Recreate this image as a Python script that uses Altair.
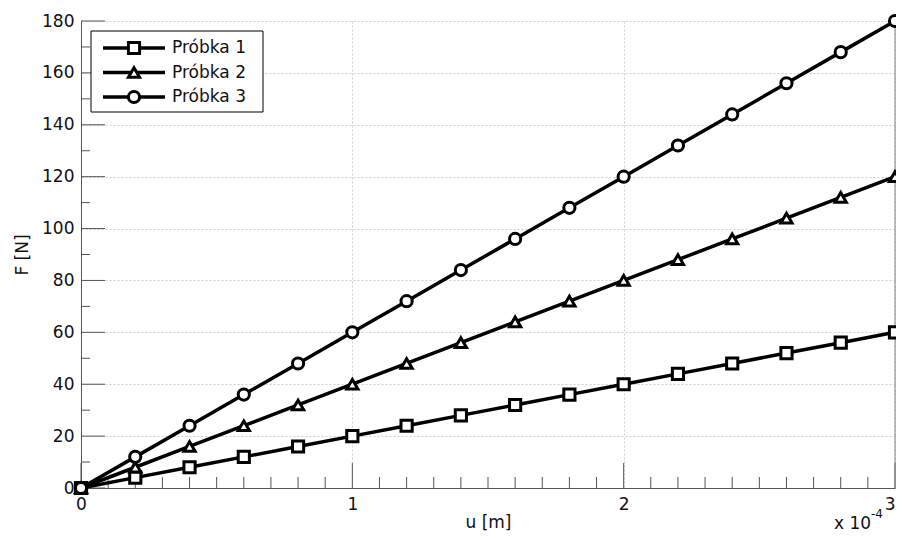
import altair as alt
import pandas as pd

# ---------------- data ----------------
u_m = [0.0, 0.00002, 0.00004, 0.00006, 0.00008, 0.0001, 0.00012, 0.00014,
       0.00016, 0.00018, 0.0002, 0.00022, 0.00024, 0.00026, 0.00028, 0.0003]
F1 = [0, 4, 8, 12, 16, 20, 24, 28, 32, 36, 40, 44, 48, 52, 56, 60]
F2 = [0, 8, 16, 24, 32, 40, 48, 56, 64, 72, 80, 88, 96, 104, 112, 120]
F3 = [0, 12, 24, 36, 48, 60, 72, 84, 96, 108, 120, 132, 144, 156, 168, 180]
series_names = ["Próbka 1", "Próbka 2", "Próbka 3"]
marker_shapes = ["square", "triangle-up", "circle"]

x_major = [0.0, 0.0001, 0.0002, 0.0003]
x_minor = [i * 1e-5 for i in range(31) if i % 10]
y_major = [0, 20, 40, 60, 80, 100, 120, 140, 160, 180]
y_minor = [10, 30, 50, 70, 90, 110, 130, 150, 170]

# ---------------- styling ----------------
FONT = "DejaVu Sans"
FS = 17
W, H = 814, 467
AX = "#555555"

rows = []
for name, vals in zip(series_names, [F1, F2, F3]):
    for u, f in zip(u_m, vals):
        rows.append({"u": u, "F": f, "series": name})
df = pd.DataFrame(rows)

x_scale = alt.Scale(domain=[0, 0.0003], nice=False, zero=False)
y_scale = alt.Scale(domain=[0, 180], nice=False)
x_axis = alt.Axis(values=x_major, labelExpr="round(datum.value*10000)", ticks=False,
                  domainColor=AX, labelFont=FONT, labelFontSize=FS, labelColor="#111",
                  labelPadding=8, grid=True, gridColor="#cfcfcf", gridDash=[2, 2],
                  labelOverlap=False, labelBound=False, labelFlush=False,
                  labelAlign={"condition": {"test": "datum.value >= 0.00029", "value": "right"},
                              "value": "center"},
                  title="u [m]", titleFont=FONT, titleFontSize=FS, titleFontWeight="normal",
                  titleColor="#111", titlePadding=2)
y_axis = alt.Axis(values=y_major, ticks=False, domainColor=AX, labelFont=FONT,
                  labelFontSize=FS, labelColor="#111", labelPadding=7, grid=True,
                  gridColor="#cfcfcf", gridDash=[2, 2], title="F [N]", titleFont=FONT,
                  titleFontSize=FS, titleFontWeight="normal", titleColor="#111",
                  titlePadding=10)

X = lambda: alt.X("u:Q", scale=x_scale, axis=x_axis)
Y = lambda: alt.Y("F:Q", scale=y_scale, axis=y_axis)
shape_enc = alt.Shape("series:N", scale=alt.Scale(domain=series_names, range=marker_shapes), legend=None)

MSIZE = 125
MSW = 3

lines = alt.Chart(df).mark_line(color="black", strokeWidth=3.5).encode(
    x=X(), y=Y(), detail="series:N")
points = alt.Chart(df).mark_point(filled=True, fill="white", stroke="black",
                                  strokeWidth=MSW, size=MSIZE, opacity=1).encode(
    x=X(), y=Y(), shape=shape_enc)

xmaj = alt.Chart(pd.DataFrame({"u": x_major})).mark_rule(color=AX, strokeWidth=1).encode(
    x=X(), y=alt.value(H), y2=alt.value(H - 25))
xmin = alt.Chart(pd.DataFrame({"u": x_minor})).mark_rule(color=AX, strokeWidth=1).encode(
    x=X(), y=alt.value(H), y2=alt.value(H - 11))
ymaj = alt.Chart(pd.DataFrame({"F": y_major})).mark_rule(color=AX, strokeWidth=1).encode(
    y=Y(), x=alt.value(0), x2=alt.value(24))
ymin = alt.Chart(pd.DataFrame({"F": y_minor})).mark_rule(color=AX, strokeWidth=1).encode(
    y=Y(), x=alt.value(0), x2=alt.value(9))
right = alt.Chart(pd.DataFrame({"u": [0.0003]})).mark_rule(color="#808080", strokeWidth=1).encode(
    x=X(), y=alt.value(0), y2=alt.value(H))

main = alt.layer(xmaj, xmin, ymaj, ymin, right, lines, points)

# ---------------- manual legend ----------------
leg = pd.DataFrame({"series": series_names, "row": [0, 1, 2]})
one = pd.DataFrame({"a": [0]})
box = alt.Chart(one).mark_rect(fill="white", stroke="black", strokeWidth=1).encode(
    x=alt.value(10), x2=alt.value(182), y=alt.value(10), y2=alt.value(91))
base_leg = alt.Chart(leg).transform_calculate(py="27 + datum.row * 24.5")
leg_lines = base_leg.mark_rule(color="black", strokeWidth=3.5).encode(
    x=alt.value(22), x2=alt.value(84), y=alt.Y("py:Q", scale=None, axis=None))
leg_pts = base_leg.mark_point(filled=True, fill="white", stroke="black",
                              strokeWidth=MSW, size=MSIZE, opacity=1).encode(
    x=alt.value(53), y=alt.Y("py:Q", scale=None, axis=None), shape=shape_enc)
leg_txt = base_leg.mark_text(align="left", baseline="middle", font=FONT, fontSize=FS,
                             color="#111").encode(
    x=alt.value(91), y=alt.Y("py:Q", scale=None, axis=None), text="series:N")
exp_main = alt.Chart(one).mark_text(align="left", baseline="alphabetic", font=FONT,
                                    fontSize=FS, color="#111").encode(
    x=alt.value(753), y=alt.value(508), text=alt.value("x 10"))
exp_sup = alt.Chart(one).mark_text(align="left", baseline="alphabetic", font=FONT,
                                   fontSize=12, color="#111").encode(
    x=alt.value(790), y=alt.value(497), text=alt.value("-4"))

legend = alt.layer(box, leg_lines, leg_pts, leg_txt, exp_main, exp_sup)

chart = alt.layer(main, legend).resolve_scale(
    x="independent", y="independent", shape="independent"
).properties(
    width=W, height=H,
    autosize=alt.AutoSizeParams(type="none"),
    padding={"left": 73, "top": 13, "right": 1, "bottom": 45},
).configure_view(stroke=None)

chart.save("out.html", embed_options={"renderer": "svg", "actions": False})
